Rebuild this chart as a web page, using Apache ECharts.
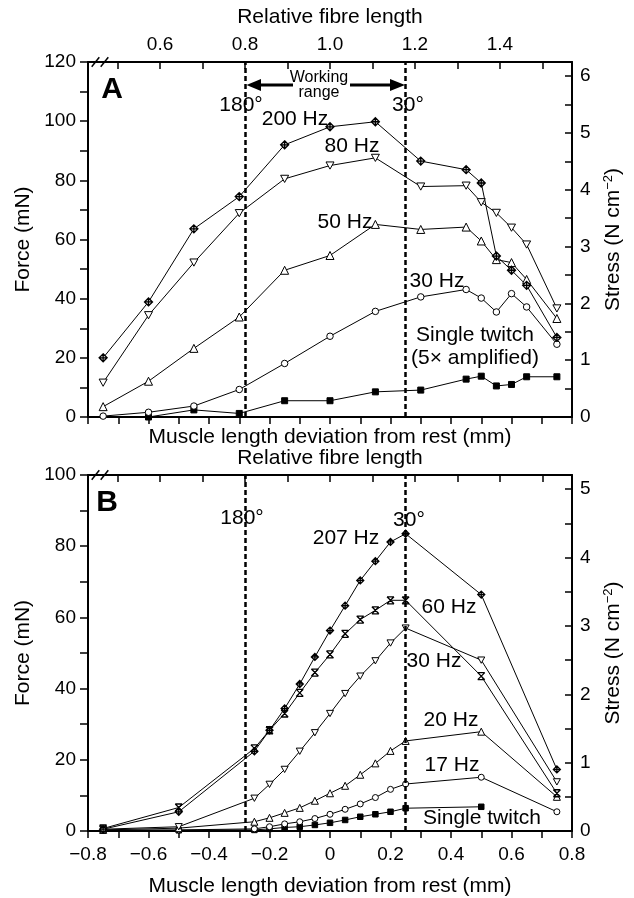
<!DOCTYPE html>
<html>
<head>
<meta charset="utf-8">
<script src="https://cdn.jsdelivr.net/npm/echarts@6/dist/echarts.min.js"></script>
<style>
  html, body { margin: 0; padding: 0; background: #fff; }
  #chart { width: 634px; height: 898px; }
</style>
</head>
<body>
<div id="chart"></div>
<script>
// ---- Panel A: force–length at several stimulation frequencies ----
const lengthA   = [-0.75, -0.6, -0.45, -0.3, -0.15, 0, 0.15, 0.3, 0.45, 0.5, 0.55, 0.6, 0.65, 0.75];
const hz200A    = [20, 38.9, 63.6, 74.5, 92, 98.1, 99.8, 86.5, 83.6, 79.1, 54.4, 49.6, 44.5, 26.9];
const hz80A     = [11.6, 34.4, 52.2, 68.9, 80.5, 85, 87.6, 77.9, 78.2, 72.6, 69, 64, 58.3, 36.7];
const hz50A     = [3.5, 12.1, 23.2, 33.8, 49.6, 54.6, 65.1, 63.4, 64.2, 59.5, 53.2, 52.2, 46.5, 33.3];
const hz30A     = [0.3, 1.6, 3.7, 9.3, 18.1, 27.3, 35.7, 40.6, 43.1, 40.2, 35.5, 41.7, 37.2, 24.6];
const twitchA   = [null, 0, 2.4, 1.2, 5.5, 5.5, 8.5, 9.1, 12.8, 13.8, 10.5, 11, 13.6, 13.6];

// ---- Panel B ----
const lengthB   = [-0.75, -0.5, -0.25, -0.2, -0.15, -0.1, -0.05, 0, 0.05, 0.1, 0.15, 0.2, 0.25, 0.5, 0.75];
const hz207B    = [0.5, 5.4, 22.4, 28.3, 34.4, 41.3, 48.9, 56.3, 63.3, 70.4, 75.8, 81.2, 83.5, 66.4, 17.3];
const hz60B     = [0.7, 6.6, 23.2, 28.3, 33, 38.8, 44.5, 49.6, 55.4, 59.4, 62, 64.8, 64.8, 43.5, 10.6];
const hz30B     = [0.5, 1.2, 9.2, 13.1, 17.3, 22.4, 27.6, 33, 38.6, 43.5, 47.8, 52.8, 57, 48, 13.8];
const hz20B     = [0.3, 0.8, 2.6, 3.7, 5.1, 6.5, 8.5, 10.6, 12.7, 15.8, 19, 22.5, 25.3, 27.9, 9.6];
const hz17B     = [0.2, 0.3, 0.6, 1.2, 2.0, 2.6, 3.5, 4.7, 6.1, 7.6, 9.4, 11.7, 13.2, 15.1, 5.4];
const twitchB   = [0.2, 0.2, 0.3, 0.6, 1.0, 1.2, 1.7, 2.3, 3.1, 4.0, 4.7, 5.4, 6.4, 6.8, null];

// joint-angle limits (mm) and their labels
const angleMarks  = [-0.28, 0.25];
const angleLabels = ['180°', '30°'];

// axis ranges / ticks
const lengthRange  = [-0.8, 0.8];
const forceMaxA = 120, forceMaxB = 100;
const forcePerStress = 19.2;           // mN per N cm^-2
const fibrePerMm = 0.712;              // relative fibre length per mm
const relTicks  = [0.5, 0.6, 0.7, 0.8, 0.9, 1.0, 1.1, 1.2, 1.3, 1.4, 1.5];
const relLabels = [0.6, 0.8, 1.0, 1.2, 1.4];

const FONT = "'Liberation Sans', Arial, Helvetica, sans-serif";
const SYM_DIAMOND = 'path://M5,0L10,5L5,10L0,5Z M5,0L5,10 M0,5L10,5';
const SYM_DOWN    = 'path://M0,0L10,0L5,9Z';
const SYM_HOUR    = 'path://M0,0L10,10 M10,0L0,10 M0,0L10,0 M0,10L10,10';

const relMin = 1 + fibrePerMm * lengthRange[0];
const relMax = 1 + fibrePerMm * lengthRange[1];

function pairs(xs, ys) {
  const out = [];
  xs.forEach((x, i) => { if (ys[i] != null) out.push([x, ys[i]]); });
  return out;
}

function curve(xs, ys, symbol, size, fill, axis, extra) {
  return Object.assign({
    type: 'line',
    xAxisIndex: axis * 2,
    yAxisIndex: axis * 2,
    data: pairs(xs, ys),
    symbol: symbol,
    symbolSize: size,
    symbolKeepAspect: true,
    showSymbol: true,
    lineStyle: { color: '#000', width: 1 },
    itemStyle: { color: fill, borderColor: '#000', borderWidth: 1 },
    emphasis: { disabled: true },
    silent: true,
    z: 3
  }, extra || {});
}

function angleLines() {
  return {
    silent: true,
    symbol: 'none',
    label: { show: false },
    lineStyle: { type: [5, 3], width: 2.5, color: '#000' },
    data: angleMarks.map(v => ({ xAxis: v }))
  };
}

const axisLineStyle = { onZero: false, lineStyle: { color: '#000', width: 2 } };
const tickStyle = { lineStyle: { color: '#000', width: 1.5 } };
const labelFont = { color: '#000', fontFamily: FONT, fontSize: 19 };
const nameFont = { color: '#000', fontFamily: FONT, fontSize: 21 };
const diamondStyle = { itemStyle: { color: '#ddd', borderColor: '#000', borderWidth: 1.3 } };

function fmtLen(v) {
  const r = Math.round(v * 10);
  if (r % 2 !== 0) return '';
  if (r === 0) return '0';
  return (r < 0 ? '\u2212' : '') + Math.abs(v).toFixed(1);
}

function bottomAxis(grid, showLabels, nameGap) {
  return {
    type: 'value', gridIndex: grid, position: 'bottom',
    min: lengthRange[0], max: lengthRange[1], interval: 0.1,
    axisLine: axisLineStyle,
    axisTick: Object.assign({ inside: false, length: 7 }, tickStyle),
    axisLabel: Object.assign({ show: showLabels, margin: 14, formatter: fmtLen }, labelFont),
    splitLine: { show: false },
    name: 'Muscle length deviation from rest (mm)',
    nameLocation: 'middle', nameGap: nameGap, nameTextStyle: nameFont
  };
}

function topAxis(grid, showLabels, nameGap) {
  return {
    type: 'value', gridIndex: grid, position: 'top',
    min: relMin, max: relMax,
    axisLine: axisLineStyle,
    axisTick: Object.assign({ inside: true, length: 7, customValues: relTicks }, tickStyle),
    axisLabel: Object.assign({ show: showLabels, margin: 8, customValues: relLabels,
      formatter: v => v.toFixed(1) }, labelFont),
    splitLine: { show: false },
    name: 'Relative fibre length',
    nameLocation: 'middle', nameGap: nameGap, nameTextStyle: nameFont
  };
}

function forceAxis(grid, max) {
  return {
    type: 'value', gridIndex: grid, position: 'left',
    min: 0, max: max, interval: 10,
    axisLine: axisLineStyle,
    axisTick: Object.assign({ inside: false, length: 8 }, tickStyle),
    axisLabel: Object.assign({ margin: 12, formatter: v => (v % 20 === 0 ? String(v) : '') }, labelFont),
    splitLine: { show: false },
    name: 'Force (mN)', nameLocation: 'middle', nameGap: 50, nameRotate: 90,
    nameTextStyle: nameFont
  };
}

function stressAxis(grid, forceMax) {
  return {
    type: 'value', gridIndex: grid, position: 'right',
    min: 0, max: forceMax / forcePerStress, interval: 0.5,
    axisLine: axisLineStyle,
    axisTick: Object.assign({ inside: true, length: 7 }, tickStyle),
    axisLabel: Object.assign({ margin: 8, formatter: v => (Math.abs(v - Math.round(v)) < 1e-6 ? String(Math.round(v)) : '') }, labelFont),
    splitLine: { show: false },
    name: 'Stress (N cm{sup|\u22122})', nameLocation: 'middle', nameGap: 30, nameRotate: 90,
    nameTextStyle: Object.assign({ rich: { sup: { fontFamily: FONT, fontSize: 13, color: '#000', padding: [0, 0, 9, 0] } } }, nameFont)
  };
}

function txt(x, y, text, size, bold) {
  return {
    type: 'text', x: x, y: y, silent: true,
    style: { text: text, fill: '#000', font: (bold ? 'bold ' : '') + size + 'px ' + FONT,
      textAlign: 'center', textVerticalAlign: 'middle' }
  };
}
function seg(x1, y1, x2, y2, w) {
  return { type: 'line', silent: true, shape: { x1, y1, x2, y2 }, style: { stroke: '#000', lineWidth: w } };
}
function tri(points) {
  return { type: 'polygon', silent: true, shape: { points }, style: { fill: '#000' } };
}

const option = {
  animation: false,
  backgroundColor: '#fff',
  grid: [
    { left: 88, top: 62, width: 484, height: 355 },
    { left: 88, top: 475, width: 484, height: 356 }
  ],
  xAxis: [
    bottomAxis(0, false, 10), topAxis(0, true, 34),
    bottomAxis(1, true, 45), topAxis(1, false, 6)
  ],
  yAxis: [
    forceAxis(0, forceMaxA), stressAxis(0, forceMaxA),
    forceAxis(1, forceMaxB), stressAxis(1, forceMaxB)
  ],
  series: [
    curve(lengthA, twitchA, 'rect', 6, '#000', 0, { markLine: angleLines() }),
    curve(lengthA, hz30A, 'circle', 6.5, '#fff', 0),
    curve(lengthA, hz50A, 'triangle', 8, '#fff', 0),
    curve(lengthA, hz80A, SYM_DOWN, 8, '#fff', 0),
    curve(lengthA, hz200A, SYM_DIAMOND, 8, '#fff', 0, diamondStyle),

    curve(lengthB, twitchB, 'rect', 5.5, '#000', 1, { markLine: angleLines() }),
    curve(lengthB, hz17B, 'circle', 6, '#fff', 1),
    curve(lengthB, hz20B, 'triangle', 7, '#fff', 1),
    curve(lengthB, hz30B, SYM_DOWN, 7, '#fff', 1),
    curve(lengthB, hz60B, SYM_HOUR, 7, '#000', 1, { itemStyle: { color: '#000', borderColor: '#000', borderWidth: 1.3 } }),
    curve(lengthB, hz207B, SYM_DIAMOND, 7, '#fff', 1, diamondStyle)
  ],
  graphic: [
    // panel A annotations
    txt(112, 90, 'A', 30, true),
    txt(241, 105, angleLabels[0], 21),
    txt(408, 105, angleLabels[1], 21),
    txt(295, 119, '200 Hz', 21),
    txt(352, 146, '80 Hz', 21),
    txt(345, 222, '50 Hz', 21),
    txt(437, 281, '30 Hz', 21),
    txt(475, 335, 'Single twitch', 21),
    txt(475, 358, '(5\u00d7 amplified)', 21),
    txt(319, 78, 'Working', 16),
    txt(319, 93, 'range', 16),
    seg(260, 85, 293, 85, 3), tri([[246.5, 85], [261, 79], [261, 91]]),
    seg(350, 85, 391, 85, 3), tri([[405, 85], [390, 79], [390, 91]]),
    seg(91.7, 66.7, 99.3, 57.3, 1.5), seg(100.7, 66.7, 108.3, 57.3, 1.5),
    // panel B annotations
    txt(107, 503, 'B', 30, true),
    txt(242, 518, angleLabels[0], 21),
    txt(409, 520, angleLabels[1], 21),
    txt(346, 538, '207 Hz', 21),
    txt(449, 607, '60 Hz', 21),
    txt(434, 661, '30 Hz', 21),
    txt(451, 720, '20 Hz', 21),
    txt(452, 765, '17 Hz', 21),
    txt(482, 818, 'Single twitch', 21),
    seg(91.7, 479.7, 99.3, 470.3, 1.5), seg(100.7, 479.7, 108.3, 470.3, 1.5)
  ]
};

const chart = echarts.init(document.getElementById('chart'), null, { renderer: 'canvas' });
chart.setOption(option);
</script>
</body>
</html>
